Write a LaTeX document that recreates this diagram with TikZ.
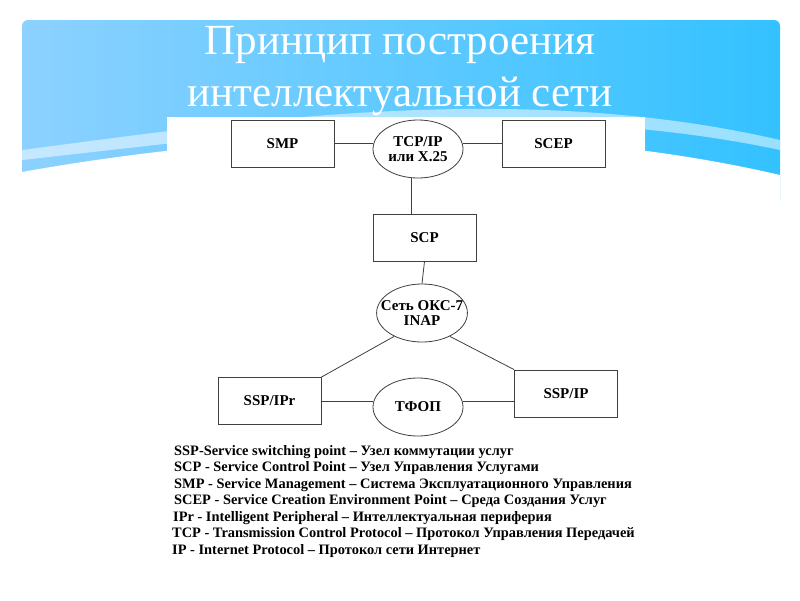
\documentclass[tikz,border=0pt]{standalone}
\usepackage{fontspec}
\setmainfont{Liberation Serif}
\usetikzlibrary{shapes.geometric}
\begin{document}
\begin{tikzpicture}[x=1pt,y=-1pt,
  box/.style={draw=black!75,line width=0.8pt,minimum width=103pt,minimum height=47pt,inner sep=0pt,font=\bfseries\fontsize{15}{17}\selectfont},
  ell/.style={draw=black!75,line width=0.8pt,ellipse,minimum width=90pt,minimum height=58pt,inner xsep=-9pt,inner ysep=0pt,align=center,font=\bfseries\fontsize{15}{15}\selectfont},
  con/.style={draw=black!75,line width=0.8pt},
  leg/.style={anchor=west,font=\bfseries\fontsize{14.4}{15}\selectfont,inner sep=0pt}]
\useasboundingbox (0,0) rectangle (800,600);
\fill[white] (0,0) rectangle (800,600);
\shade[left color=cyan!60!blue!45!white, right color=cyan!70!blue!80, rounded corners=6pt]
  (22,20) -- (780,20) -- (780,260) -- (22,260) -- cycle;
\fill[white,opacity=0.5] (22,150) .. controls (250,120) and (520,80) .. (780,140) -- (780,150) .. controls (520,95) and (250,135) .. (22,160) -- cycle;
\fill[white] (22,172) .. controls (200,140) and (500,110) .. (780,175) -- (780,200) .. controls (700,200) and (660,205) .. (645,210) -- (645,262) -- (0,262) -- (0,172) -- cycle;
\fill[white,opacity=0.35] (645,180) .. controls (700,185) and (750,200) .. (780,215) -- (780,225) .. controls (740,210) and (700,200) .. (645,195) -- cycle;
\fill[white] (0,200) rectangle (800,262);
\node[white,font=\fontsize{43}{52}\selectfont,align=center] (title) at (400,71) {Принцип построения\\интеллектуальной сети};
\fill[white] (167,117) rectangle (645,572);
\node[box] (smp) at (282.5,143.5) {SMP};
\node[ell] (tcp) at (418,149) {TCP/IP\\или X.25};
\node[box] (scep) at (553.5,143.5) {SCEP};
\node[box] (scp) at (424.5,237.5) {SCP};
\node[ell] (okc) at (422,313) {Сеть ОКС-7\\INAP};
\node[box] (sspr) at (269.5,401) {SSP/IPr};
\node[ell] (tfop) at (418,407) {ТФОП};
\node[box] (ssp) at (566,393.5) {SSP/IP};
\draw[con] (smp.east |- 0,143) -- (tcp.west |- 0,143);
\draw[con] (tcp.east |- 0,143) -- (scep.west |- 0,143);
\draw[con] (tcp.south -| 411,0) -- (scp.north -| 411,0);
\draw[con] (scp.south) -- (okc.north);
\draw[con] (okc.-140) -- (sspr.north east);
\draw[con] (okc.-40) -- (ssp.north west);
\draw[con] (sspr.east |- 0,401) -- (tfop.west |- 0,401);
\draw[con] (tfop.east |- 0,401) -- (ssp.west |- 0,401);
\node[leg] (l1) at (174,452) {SSP-Service switching point – Узел коммутации услуг};
\node[leg] (l2) at (174,468.5) {SCP - Service Control Point – Узел Управления Услугами};
\node[leg] (l3) at (174,485) {SMP - Service Management – Система Эксплуатационного Управления};
\node[leg] (l4) at (174,501.5) {SCEP - Service Creation Environment Point – Среда Создания Услуг};
\node[leg] (l5) at (173,518) {IPr - Intelligent Peripheral – Интеллектуальная периферия};
\node[leg] (l6) at (172,534.5) {TCP - Transmission Control Protocol – Протокол Управления Передачей};
\node[leg] (l7) at (172,551) {IP - Internet Protocol – Протокол сети Интернет};
\end{tikzpicture}
\end{document}
